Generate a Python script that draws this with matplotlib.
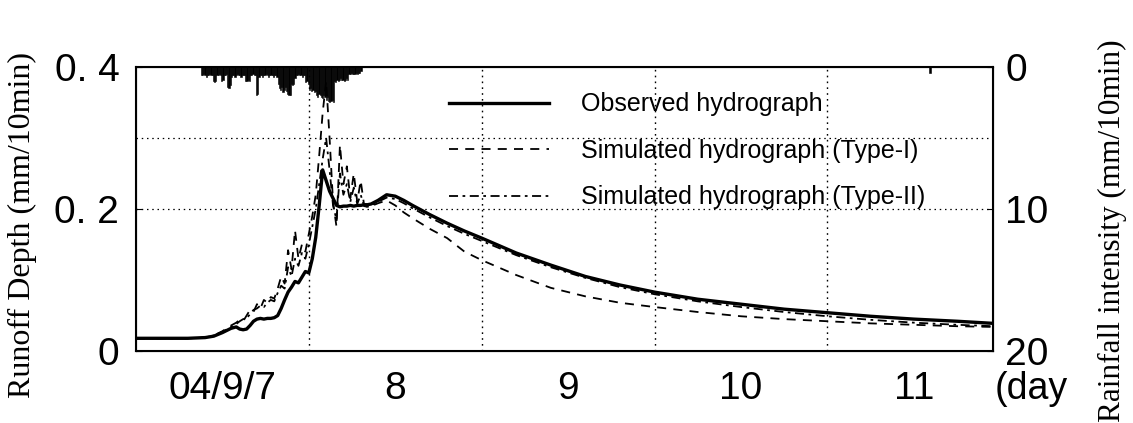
import matplotlib
matplotlib.use("Agg")
import matplotlib.pyplot as plt
import pandas as pd

# --- hydrograph data (time in days since 2004-09-07 00:00) ---
t_day = [
    0.0, 0.1, 0.2, 0.3, 0.4, 0.45, 0.5, 0.55,
    0.58, 0.60, 0.62, 0.64, 0.66, 0.68, 0.70, 0.72, 0.74, 0.76,
    0.78, 0.80, 0.82, 0.84, 0.86, 0.88, 0.90, 0.92, 0.94, 0.96,
    0.98, 1.00, 1.02, 1.04, 1.06, 1.08, 1.10, 1.12, 1.14, 1.16,
    1.18, 1.20, 1.22, 1.24, 1.26, 1.28, 1.30, 1.32, 1.34, 1.36,
    1.40, 1.45, 1.50, 1.55, 1.60, 1.70, 1.80, 1.90, 2.0, 2.2,
    2.4, 2.6, 2.8, 3.0, 3.25, 3.5, 3.75, 4.0, 4.25, 4.5, 4.75, 4.96,
]
observed = [
    0.018, 0.018, 0.018, 0.018, 0.019, 0.021, 0.026, 0.032,
    0.034, 0.031, 0.030, 0.031, 0.036, 0.042, 0.045, 0.046, 0.045, 0.046,
    0.046, 0.047, 0.050, 0.060, 0.072, 0.083, 0.090, 0.098, 0.096, 0.104,
    0.112, 0.110, 0.130, 0.160, 0.205, 0.255, 0.240, 0.225, 0.215, 0.205,
    0.203, 0.204, 0.204, 0.205, 0.204, 0.205, 0.205, 0.206, 0.206, 0.207,
    0.212, 0.220, 0.218, 0.212, 0.205, 0.192, 0.180, 0.169, 0.159, 0.138,
    0.121, 0.105, 0.093, 0.083, 0.073, 0.066, 0.059, 0.054, 0.049, 0.045, 0.042, 0.039,
]
sim_type1 = [
    0.018, 0.018, 0.018, 0.018, 0.019, 0.022, 0.028, 0.036,
    0.040, 0.044, 0.042, 0.050, 0.058, 0.055, 0.066, 0.060, 0.072, 0.068,
    0.076, 0.074, 0.088, 0.105, 0.095, 0.142, 0.115, 0.170, 0.130, 0.150,
    0.140, 0.165, 0.190, 0.220, 0.275, 0.335, 0.380, 0.300, 0.210, 0.175,
    0.290, 0.235, 0.260, 0.215, 0.250, 0.210, 0.240, 0.205, 0.203, 0.204,
    0.208, 0.212, 0.205, 0.195, 0.187, 0.172, 0.159, 0.140, 0.128, 0.107,
    0.089, 0.077, 0.068, 0.062, 0.055, 0.049, 0.045, 0.042, 0.039, 0.037, 0.035, 0.034,
]
sim_type2 = [
    0.018, 0.018, 0.018, 0.018, 0.019, 0.022, 0.027, 0.034,
    0.038, 0.042, 0.045, 0.046, 0.052, 0.058, 0.060, 0.064, 0.062, 0.068,
    0.072, 0.070, 0.082, 0.092, 0.088, 0.118, 0.105, 0.130, 0.120, 0.138,
    0.130, 0.150, 0.175, 0.200, 0.235, 0.270, 0.300, 0.255, 0.205, 0.185,
    0.250, 0.220, 0.235, 0.210, 0.230, 0.207, 0.220, 0.204, 0.203, 0.205,
    0.210, 0.216, 0.214, 0.208, 0.201, 0.188, 0.176, 0.165, 0.155, 0.135,
    0.118, 0.103, 0.090, 0.080, 0.070, 0.062, 0.055, 0.049, 0.044, 0.040, 0.037, 0.035,
]

# --- rainfall (mm/10min), 10-min steps starting 2004-09-07 09:00 ---
rain_start = "2004-09-07 09:00"
rain_10min = [
    0.6, 0.6, 0.5, 0.6, 0.7, 0.6, 0.6, 0.5, 0.6, 0.6,
    1.0, 1.1, 1.0, 0.6, 0.6, 0.5, 0.6, 1.0, 0.9, 0.6,
    0.6, 0.5, 1.4, 1.5, 1.3, 0.7, 0.6, 0.6, 0.7, 0.6,
    0.5, 0.6, 0.6, 0.7, 0.6, 0.6, 0.6, 1.0, 1.0, 0.9,
    1.0, 0.6, 0.6, 0.5, 0.6, 0.6, 2.0, 1.9, 0.7, 0.6,
    0.6, 0.7, 0.6, 0.6, 0.5, 0.6, 0.7, 0.6, 0.6, 0.6,
    0.7, 0.6, 0.6, 0.7, 1.2, 1.5, 1.6, 1.4, 1.8, 1.6,
    1.4, 1.7, 1.9, 2.0, 2.0, 1.2, 1.3, 1.2, 0.8, 0.6,
    0.6, 0.5, 0.6, 0.6, 0.7, 0.6, 0.6, 1.1, 1.0, 1.2,
    1.6, 1.5, 1.7, 1.6, 1.8, 1.7, 2.0, 2.1, 1.9, 2.0,
    2.1, 2.2, 2.0, 2.1, 2.3, 2.1, 2.4, 2.5, 2.4, 2.3,
    2.5, 1.0, 1.1, 0.9, 1.0, 0.9, 0.8, 0.9, 0.9, 1.0,
    0.9, 0.8, 0.9, 0.5, 0.5, 0.4, 0.5, 0.5, 0.5, 0.4,
    0.5, 0.4, 0.4, 0.3,
]
rain_late_time = ["2004-09-11 14:10"]
rain_late = [0.4]

day_labels = ["04/9/7", "8", "9", "10", "11"]

# ------------------------------------------------------------------
t0 = pd.Timestamp("2004-09-07")
t_hydro = t0 + pd.to_timedelta(t_day, unit="D")
rain_time = list(pd.date_range(rain_start, periods=len(rain_10min), freq="10min"))
rain_time += list(pd.to_datetime(rain_late_time))
rain_vals = rain_10min + rain_late

tickfont = ["Liberation Sans", "DejaVu Sans"]
serif = ["Liberation Serif", "DejaVu Serif"]
sans = ["Liberation Sans", "DejaVu Sans"]
dotted = (0, (1.2, 3))

fig = plt.figure(figsize=(11.33, 4.23), dpi=100)
ax = fig.add_axes([0.120, 0.170, 0.756, 0.672])

ax.plot(t_hydro, observed, color="black", lw=2.4, label="Observed hydrograph")
ax.plot(t_hydro, sim_type1, color="black", lw=1.3, ls=(0, (5, 4)),
        label="Simulated hydrograph (Type-I)")
ax.plot(t_hydro, sim_type2, color="black", lw=1.3, ls=(0, (5, 2.5, 1.5, 2.5)),
        label="Simulated hydrograph (Type-II)")

ax.set_xlim(t0, t0 + pd.Timedelta(days=4.955))
ax.set_ylim(0, 0.4)

# dotted grid: day boundaries and 0.2 / 0.3 levels
for d in range(1, 5):
    ax.axvline(t0 + pd.Timedelta(days=d), color="black", lw=1.0, ls=dotted, zorder=0)
for yv in (0.2, 0.3):
    ax.axhline(yv, color="black", lw=0.9, ls=dotted, zorder=0)

# day labels centred on noon of each day
ax.set_xticks([t0 + pd.Timedelta(days=d + 0.5) for d in range(len(day_labels))])
ax.set_xticklabels(day_labels, family=tickfont, fontsize=28)
ax.tick_params(axis="x", length=0, pad=14)
ax.text(1.002, -0.07, "(day", transform=ax.transAxes, family=tickfont, fontsize=27,
        ha="left", va="top")

ax.set_yticks([0, 0.2, 0.4])
ax.set_yticklabels(["0", "0. 2", "0. 4"], family=tickfont, fontsize=28)
ax.tick_params(axis="y", direction="in", length=4, pad=12)

for sp in ax.spines.values():
    sp.set_linewidth(1.5)

# rainfall on inverted right axis
ax2 = ax.twinx()
ax2.bar(rain_time, rain_vals, width=1 / 144, align="edge", color="black",
        edgecolor="black", linewidth=0.4)
ax2.set_ylim(20, 0)
ax2.set_yticks([0, 10, 20])
ax2.set_yticklabels(["0", "10", "20"], family=tickfont, fontsize=28)
ax2.tick_params(axis="y", direction="in", length=4, pad=9)
ax2.set_xlim(ax.get_xlim())

ax.legend(loc="upper left", bbox_to_anchor=(0.365, 0.91), frameon=False,
          prop={"family": sans, "size": 18}, handlelength=4.0,
          handletextpad=1.3, labelspacing=0.9, borderpad=0, borderaxespad=0)

fig.text(0.020, 0.468, "Runoff Depth (mm/10min)", rotation=90, family=serif,
         fontsize=23, ha="center", va="center")
fig.text(0.982, 0.455, "Rainfall intensity (mm/10min)", rotation=90, family=serif,
         fontsize=22.5, ha="center", va="center")

fig.savefig("out.png", dpi=100)
